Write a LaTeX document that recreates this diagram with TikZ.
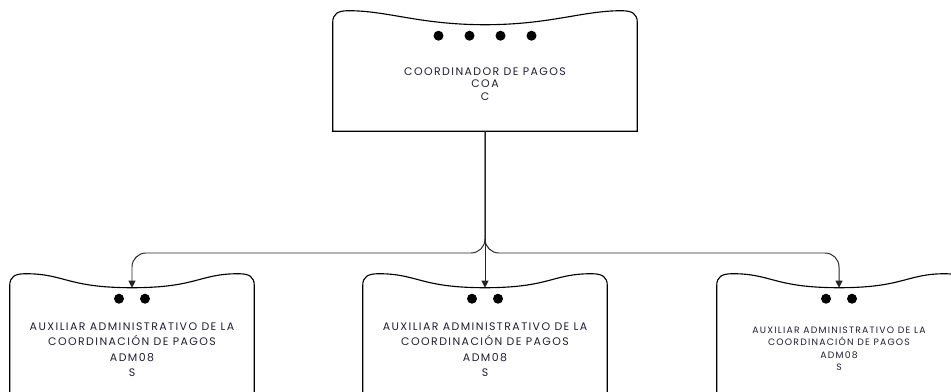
\documentclass[tikz,border=0pt]{standalone}
\usepackage{fontspec}
\setmainfont{Poppins}[LetterSpace=13]
\usepackage{tikz}
\usetikzlibrary{arrows.meta,calc}
\definecolor{tinta}{RGB}{30,30,55}
\tikzstyle{caja}=[rectangle,inner sep=0pt,minimum width=61mm,minimum height=28mm]
\tikzstyle{borde}=[draw=black,line width=0.8pt]
\tikzstyle{punto}=[fill=black]
\tikzstyle{texto}=[align=center,text=tinta,inner sep=0pt]
\tikzstyle{flecha}=[draw=black!85,line width=0.7pt,-{Triangle[width=5pt,length=5pt]}]

% outline with the wavy top, drawn round a box node
\newcommand{\contorno}[1]{%
  \draw[borde] (#1.south west) -- ($(#1.north west)+(0,-2)$)
    .. controls ($(#1.north west)+(0,-11)$) and ($(#1.north west)+(5,-14)$) .. ($(#1.north west)+(16,-14)$)
    .. controls ($(#1.north west)+(55,-14)$) and ($(#1.north)+(-65,0)$) .. (#1.north)
    .. controls ($(#1.north)+(65,0)$) and ($(#1.north east)+(-55,-14)$) .. ($(#1.north east)+(-16,-14)$)
    .. controls ($(#1.north east)+(-5,-14)$) and ($(#1.north east)+(0,-11)$) .. ($(#1.north east)+(0,-2)$)
    -- (#1.south east) -- cycle;}

\begin{document}
\begin{tikzpicture}[x=0.25mm,y=-0.25mm]
      \clip (0,0) rectangle (951,391);

      % boxes
      \node[caja,minimum width=76mm,minimum height=26.5mm] at (485,78) (coord) {};
      \node[caja] at (132,344) (aux1) {};
      \node[caja] at (485,344) (aux2) {};
      \node[caja] at (839,344) (aux3) {};
      \contorno{coord}
      \contorno{aux1}
      \contorno{aux2}
      \contorno{aux3}

      % bullets
      \foreach \i in {-1.5,-0.5,0.5,1.5}
        \fill[punto] ($(coord.north)+(\i*31,11)$) circle (1.25mm);
      \foreach \b in {aux1,aux2,aux3}
        \foreach \i in {-0.5,0.5}
          \fill[punto] ($(\b.north)+(\i*26,11)$) circle (1.25mm);

      % texts
      \node[texto,font=\fontsize{7.8}{8.9}\selectfont] at ($(coord.north)+(0,59)$) (coordtxt)
        {COORDINADOR DE PAGOS\\COA\\C};
      \node[texto,font=\fontsize{7.8}{11}\selectfont] at ($(aux1.north)+(0,62)$) (aux1txt)
        {AUXILIAR ADMINISTRATIVO DE LA\\COORDINACIÓN DE PAGOS\\ADM08\\S};
      \node[texto,font=\fontsize{7.8}{11}\selectfont] at ($(aux2.north)+(0,62)$) (aux2txt)
        {AUXILIAR ADMINISTRATIVO DE LA\\COORDINACIÓN DE PAGOS\\ADM08\\S};
      \node[texto,font=\fontsize{6.6}{8.9}\selectfont] at ($(aux3.north)+(0,61)$) (aux3txt)
        {AUXILIAR ADMINISTRATIVO DE LA\\COORDINACIÓN DE PAGOS\\ADM08\\S};

      % connectors
      \coordinate (bar) at (485,253);
      \draw[flecha] (coord.south) -- (aux2.north);
      \draw[flecha,rounded corners=3.5mm] (coord.south) -- (bar) -| (aux1.north);
      \draw[flecha,rounded corners=3.5mm] (coord.south) -- (bar) -| (aux3.north);
\end{tikzpicture}
\end{document}
